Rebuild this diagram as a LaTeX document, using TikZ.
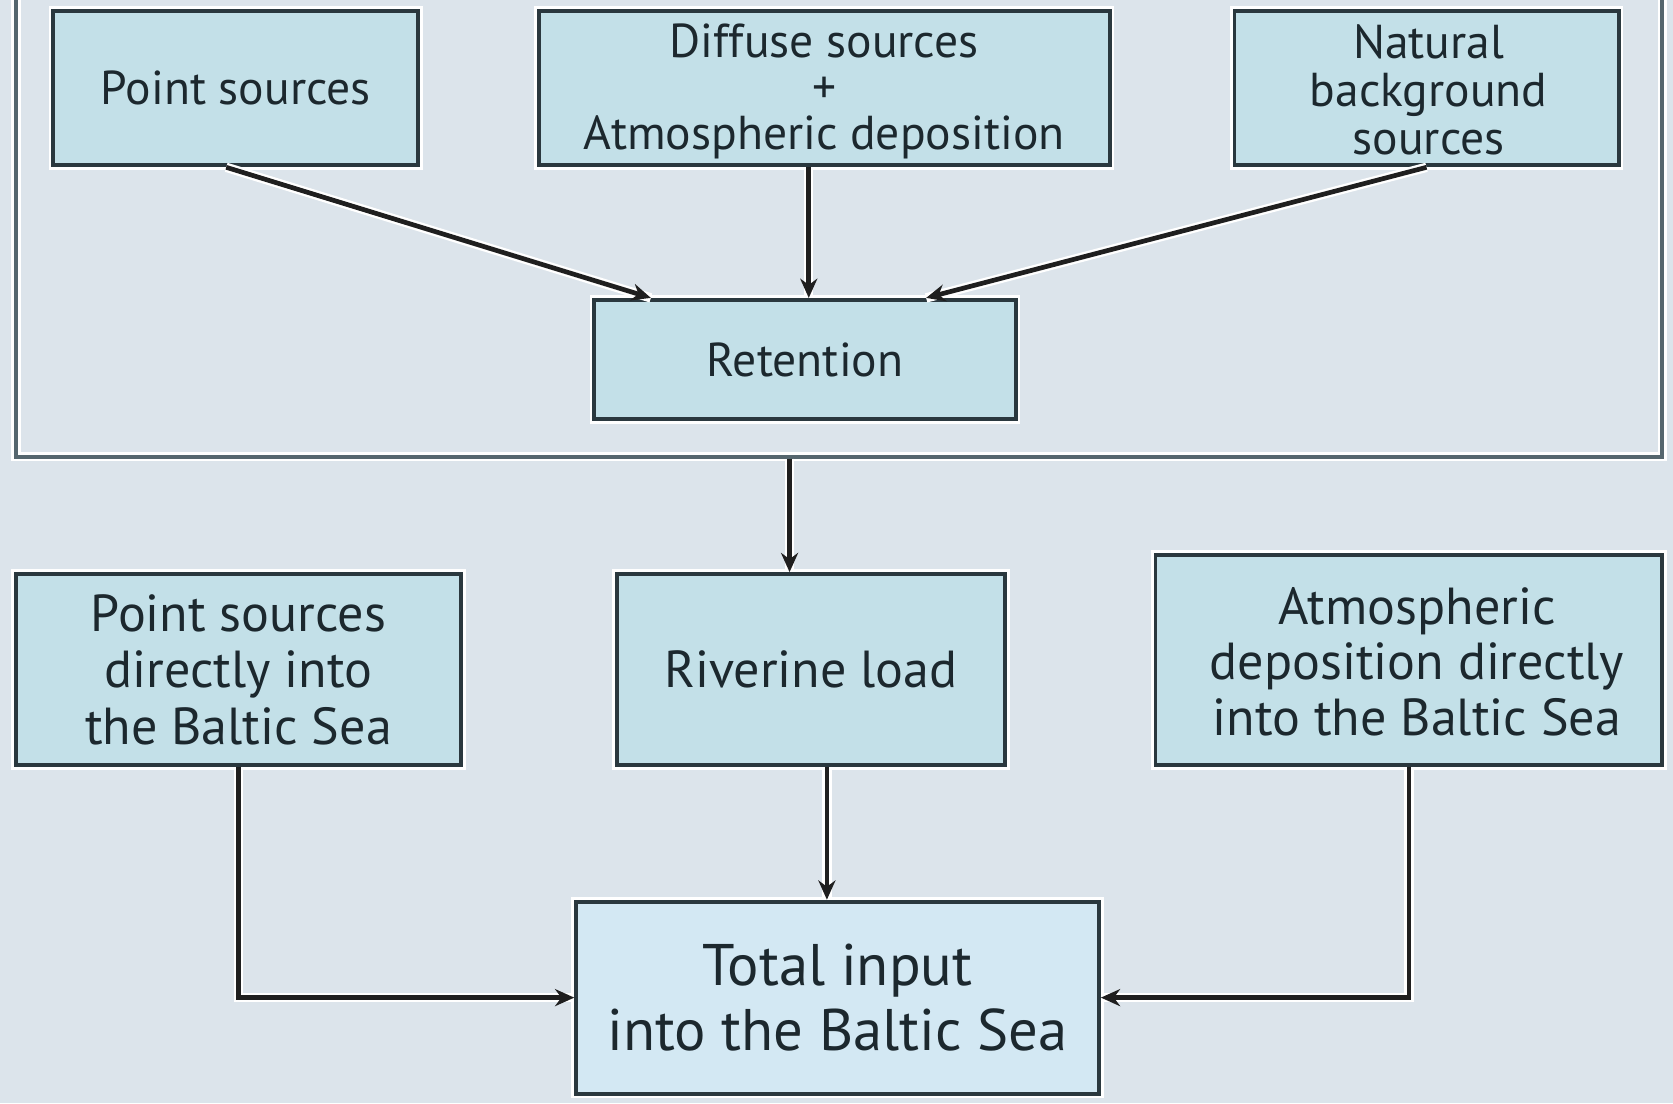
\documentclass[tikz,border=0pt]{standalone}
\usepackage{fontspec}
\setmainfont{PT Sans}
\usetikzlibrary{arrows.meta,calc}
\definecolor{bg}{HTML}{DCE4EB}
\definecolor{boxfill}{HTML}{C3E0E8}
\definecolor{totfill}{HTML}{D3E8F3}
\definecolor{boxline}{HTML}{2A383E}
\definecolor{frameline}{HTML}{55666E}
\definecolor{txt}{HTML}{1C282E}
\tikzset{
  box/.style={draw=boxline, line width=1.8pt, fill=boxfill, align=center, inner sep=0pt, text=txt,
    preaction={draw=white, line width=4.4pt}},
  framebox/.style={draw=frameline, line width=1.8pt, inner sep=0pt,
    preaction={draw=white, line width=4.4pt}},
  conn/.style={draw=black!88, line width=2.2pt, -{Stealth[length=9pt,width=8pt]},
    preaction={draw=white, line width=4.4pt, -}},
  fA/.style={font=\fontsize{22.3}{21.5}\selectfont},
  fB/.style={font=\fontsize{24.4}{26.5}\selectfont},
  fC/.style={font=\fontsize{27.5}{30.5}\selectfont}
}
\begin{document}
\begin{tikzpicture}[x=0.5pt,y=-0.5pt]
\fill[bg] (0,0) rectangle (1568,1034);
\useasboundingbox (0,0) rectangle (1568,1034);
\begin{scope}
\clip (0,0) rectangle (1568,1034);
\node[framebox, minimum width=771.5pt, minimum height=219pt] (frame) at (786.5,209) {};
\end{scope}
% top row
\node[box, fA, minimum width=171pt, minimum height=72.5pt] (ps) at (221,82.5) {Point sources};
\node[box, minimum width=267.5pt, minimum height=72.5pt] (diff) at (772.5,82.5) {};
\node[fA, align=center, text=txt] (difft) at (772.5,86) {Diffuse sources\\+\\Atmospheric deposition};
\node[box, minimum width=180pt, minimum height=72.5pt] (nat) at (1337,82.5) {};
\node[align=center, text=txt, font=\fontsize{22.3}{22.5}\selectfont] (natt) at (1339,84) {Natural\\background\\sources};
\node[box, fA, minimum width=197.5pt, minimum height=56pt] (ret) at (754.5,337) {Retention};
% middle row
\node[box, fB, minimum width=208.5pt, minimum height=89.5pt] (psd) at (223.5,627.5) {Point sources\\directly into\\the Baltic Sea};
\node[box, fB, minimum width=182pt, minimum height=89.5pt] (riv) at (760,627.5) {Riverine load};
\node[box, minimum width=237.5pt, minimum height=98.5pt] (atm) at (1320.5,618.5) {};
\node[align=center, text=txt, font=\fontsize{24.4}{26}\selectfont] (atmt) at (1328,620) {Atmospheric\\deposition directly\\into the Baltic Sea};
% bottom
\node[box, fC, fill=totfill, minimum width=245pt, minimum height=90pt] (tot) at (785,935) {Total input\\into the Baltic Sea};
% connectors
\draw[conn] ([xshift=-4.5pt]ps.south) -- ([xshift=-72.25pt]ret.north);
\draw[conn] ([xshift=-7.25pt]diff.south) -- ([xshift=-7.25pt]diff.south |- ret.north);
\draw[conn] (nat.south) -- ([xshift=56.75pt]ret.north);
\draw[conn] ([xshift=-10pt]riv.north |- frame.south) -- ([xshift=-10pt]riv.north);
\draw[conn] ([xshift=7.5pt]riv.south) -- ([xshift=7.5pt]riv.south |- tot.north);
\draw[conn] (psd.south) |- (tot.west);
\draw[conn] (atm.south) |- (tot.east);
\end{tikzpicture}
\end{document}
